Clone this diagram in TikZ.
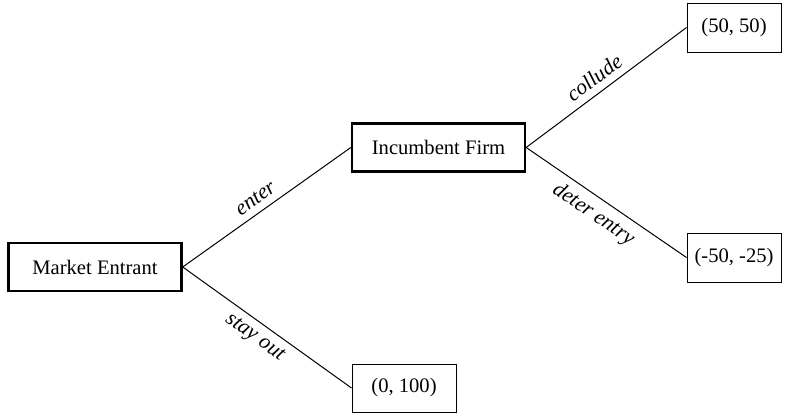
\documentclass[tikz,border=0pt]{standalone}
\usepackage{fontspec}
\setmainfont{Liberation Serif}

\begin{document}
\begin{tikzpicture}[x=0.5pt,y=0.5pt]
        \tikzstyle{every node}+=[font=\fontsize{10.3}{12}\selectfont]
        \tikzstyle{player}=[draw, line width=1.2pt, minimum width=86.5pt, minimum height=24pt, inner sep=0pt]
        \tikzstyle{payoff}=[draw, line width=0.5pt, minimum width=47pt, minimum height=24.5pt, inner sep=0pt]
        \tikzstyle{move}=[font=\fontsize{10.8}{12}\selectfont\itshape, sloped, pos=0.48, inner sep=3.5pt]
        \useasboundingbox (0,0) rectangle (789,-413);
        \node [player] (entrant) at (95,-267) {Market Entrant};
        \node [player] (incumbent) at (438.5,-147.5) {Incumbent Firm};
        \node [payoff] (collude) at (734,-27.5) {(50, 50)};
        \node [payoff] (deter) at (734,-257.5) {(-50, -25)};
        \node [payoff, minimum width=52pt, minimum height=24pt] (out) at (404,-388) {(0, 100)};
        \draw [line width=0.5pt] (entrant.east) -- (incumbent.west) node [move, above] {enter};
        \draw [line width=0.5pt] (entrant.east) -- (out.west) node [move, below] {stay out};
        \draw [line width=0.5pt] (incumbent.east) -- (collude.west) node [move, above] {collude};
        \draw [line width=0.5pt] (incumbent.east) -- (deter.west) node [move, below] {deter entry};
      \end{tikzpicture}
\end{document}
